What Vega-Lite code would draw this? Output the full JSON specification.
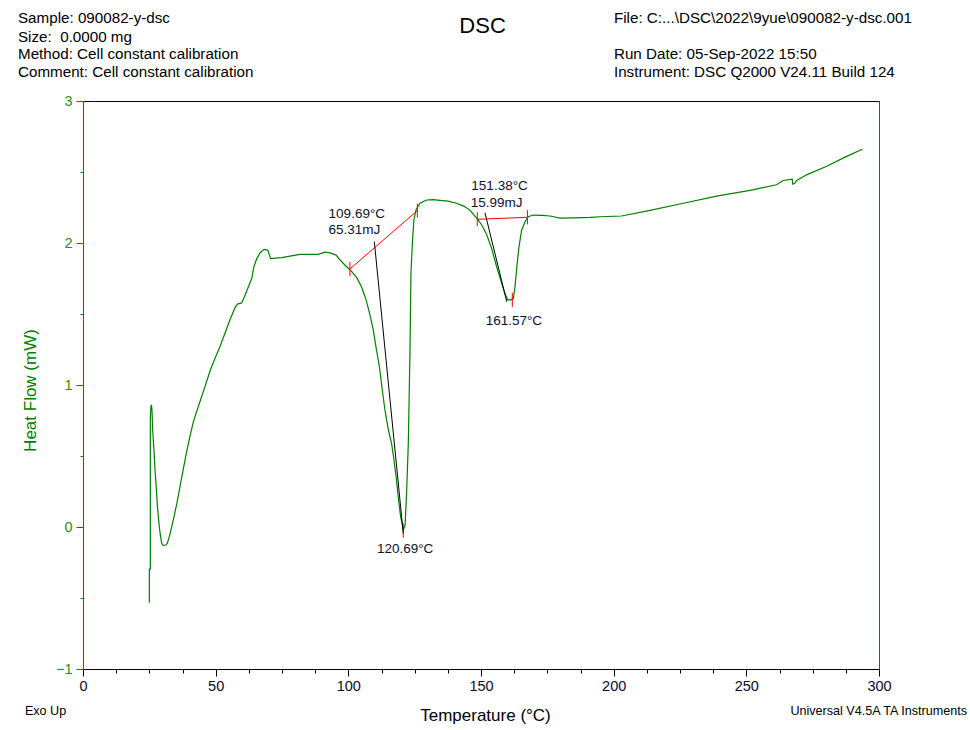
{
  "$schema": "https://vega.github.io/schema/vega-lite/v6.json",
  "width": 796,
  "height": 568,
  "autosize": {"type": "none"},
  "padding": {"left": 83, "top": 101, "right": 91, "bottom": 61},
  "background": "white",
  "config": {"view": {"stroke": "#008000", "strokeWidth": 1}, "font": "Liberation Sans"},
  "datasets": {
    "curve": [
      {"i": 1, "T": 25.0, "HF": -0.533}, {"i": 2, "T": 25.0, "HF": -0.296}, {"i": 3, "T": 25.38, "HF": -0.296},
      {"i": 4, "T": 25.38, "HF": 0.77}, {"i": 5, "T": 25.6, "HF": 0.85}, {"i": 6, "T": 25.8, "HF": 0.86},
      {"i": 7, "T": 26.0, "HF": 0.82}, {"i": 8, "T": 26.26, "HF": 0.68}, {"i": 9, "T": 26.76, "HF": 0.54},
      {"i": 10, "T": 27.14, "HF": 0.40}, {"i": 11, "T": 27.64, "HF": 0.27}, {"i": 12, "T": 28.01, "HF": 0.155},
      {"i": 13, "T": 28.39, "HF": 0.073}, {"i": 14, "T": 28.77, "HF": 0.0}, {"i": 15, "T": 29.14, "HF": -0.056},
      {"i": 16, "T": 29.65, "HF": -0.115}, {"i": 17, "T": 30.1, "HF": -0.128}, {"i": 18, "T": 30.65, "HF": -0.13},
      {"i": 19, "T": 31.2, "HF": -0.127}, {"i": 20, "T": 31.78, "HF": -0.115}, {"i": 21, "T": 32.79, "HF": -0.05},
      {"i": 22, "T": 34.04, "HF": 0.05}, {"i": 23, "T": 35.3, "HF": 0.16}, {"i": 24, "T": 36.56, "HF": 0.285},
      {"i": 25, "T": 37.81, "HF": 0.41}, {"i": 26, "T": 39.07, "HF": 0.53}, {"i": 27, "T": 40.33, "HF": 0.64},
      {"i": 28, "T": 41.58, "HF": 0.74}, {"i": 29, "T": 43.84, "HF": 0.87}, {"i": 30, "T": 46.0, "HF": 0.99},
      {"i": 31, "T": 47.9, "HF": 1.1}, {"i": 32, "T": 49.8, "HF": 1.19}, {"i": 33, "T": 51.6, "HF": 1.27},
      {"i": 34, "T": 53.5, "HF": 1.364}, {"i": 35, "T": 55.4, "HF": 1.46}, {"i": 36, "T": 57.3, "HF": 1.545},
      {"i": 37, "T": 58.2, "HF": 1.57}, {"i": 38, "T": 59.8, "HF": 1.578}, {"i": 39, "T": 61.1, "HF": 1.634},
      {"i": 40, "T": 62.3, "HF": 1.69}, {"i": 41, "T": 63.6, "HF": 1.75}, {"i": 42, "T": 64.4, "HF": 1.833},
      {"i": 43, "T": 65.5, "HF": 1.89}, {"i": 44, "T": 66.7, "HF": 1.93}, {"i": 45, "T": 68.2, "HF": 1.955},
      {"i": 46, "T": 69.6, "HF": 1.95}, {"i": 47, "T": 70.2, "HF": 1.92}, {"i": 48, "T": 70.7, "HF": 1.89},
      {"i": 49, "T": 74.9, "HF": 1.897}, {"i": 50, "T": 78.0, "HF": 1.908}, {"i": 51, "T": 81.8, "HF": 1.92},
      {"i": 52, "T": 88.7, "HF": 1.92}, {"i": 53, "T": 91.2, "HF": 1.935}, {"i": 54, "T": 93.1, "HF": 1.93},
      {"i": 55, "T": 95.4, "HF": 1.915}, {"i": 56, "T": 96.9, "HF": 1.88}, {"i": 57, "T": 98.7, "HF": 1.845},
      {"i": 58, "T": 100.6, "HF": 1.812}, {"i": 59, "T": 103.1, "HF": 1.758}, {"i": 60, "T": 105.0, "HF": 1.69},
      {"i": 61, "T": 106.7, "HF": 1.6}, {"i": 62, "T": 108.2, "HF": 1.49}, {"i": 63, "T": 109.4, "HF": 1.387},
      {"i": 64, "T": 110.4, "HF": 1.27}, {"i": 65, "T": 111.7, "HF": 1.13}, {"i": 66, "T": 112.8, "HF": 0.965},
      {"i": 67, "T": 113.8, "HF": 0.824}, {"i": 68, "T": 115.1, "HF": 0.683}, {"i": 69, "T": 116.3, "HF": 0.589},
      {"i": 70, "T": 117.2, "HF": 0.472}, {"i": 71, "T": 118.0, "HF": 0.354}, {"i": 72, "T": 118.8, "HF": 0.213},
      {"i": 73, "T": 119.7, "HF": 0.073}, {"i": 74, "T": 120.4, "HF": 0.014}, {"i": 75, "T": 120.7, "HF": -0.021},
      {"i": 76, "T": 121.4, "HF": 0.014}, {"i": 77, "T": 122.0, "HF": 0.26}, {"i": 78, "T": 122.6, "HF": 0.589},
      {"i": 79, "T": 123.2, "HF": 1.2}, {"i": 80, "T": 123.6, "HF": 1.787}, {"i": 81, "T": 124.2, "HF": 2.02},
      {"i": 82, "T": 124.7, "HF": 2.162}, {"i": 83, "T": 125.5, "HF": 2.233}, {"i": 84, "T": 127.0, "HF": 2.28},
      {"i": 85, "T": 129.5, "HF": 2.303}, {"i": 86, "T": 132.0, "HF": 2.305}, {"i": 87, "T": 134.5, "HF": 2.3},
      {"i": 88, "T": 137.5, "HF": 2.295}, {"i": 89, "T": 140.8, "HF": 2.28}, {"i": 90, "T": 143.5, "HF": 2.26},
      {"i": 91, "T": 145.9, "HF": 2.23}, {"i": 92, "T": 148.6, "HF": 2.17}, {"i": 93, "T": 150.3, "HF": 2.127},
      {"i": 94, "T": 152.2, "HF": 2.056}, {"i": 95, "T": 154.0, "HF": 1.962}, {"i": 96, "T": 155.9, "HF": 1.833},
      {"i": 97, "T": 157.8, "HF": 1.716}, {"i": 98, "T": 159.0, "HF": 1.645}, {"i": 99, "T": 160.1, "HF": 1.6},
      {"i": 100, "T": 161.3, "HF": 1.6}, {"i": 101, "T": 162.2, "HF": 1.61}, {"i": 102, "T": 162.8, "HF": 1.69},
      {"i": 103, "T": 163.5, "HF": 1.83}, {"i": 104, "T": 164.3, "HF": 1.97}, {"i": 105, "T": 165.3, "HF": 2.09},
      {"i": 106, "T": 166.6, "HF": 2.15}, {"i": 107, "T": 167.8, "HF": 2.185}, {"i": 108, "T": 169.7, "HF": 2.197},
      {"i": 109, "T": 173.0, "HF": 2.195}, {"i": 110, "T": 176.0, "HF": 2.19}, {"i": 111, "T": 179.8, "HF": 2.175},
      {"i": 112, "T": 185.0, "HF": 2.177}, {"i": 113, "T": 191.1, "HF": 2.18}, {"i": 114, "T": 194.9, "HF": 2.185},
      {"i": 115, "T": 203.0, "HF": 2.19}, {"i": 116, "T": 213.7, "HF": 2.23}, {"i": 117, "T": 226.3, "HF": 2.28},
      {"i": 118, "T": 238.8, "HF": 2.33}, {"i": 119, "T": 251.4, "HF": 2.37}, {"i": 120, "T": 261.4, "HF": 2.41},
      {"i": 121, "T": 263.9, "HF": 2.44}, {"i": 122, "T": 267.3, "HF": 2.45}, {"i": 123, "T": 267.5, "HF": 2.415},
      {"i": 124, "T": 268.2, "HF": 2.42}, {"i": 125, "T": 269.0, "HF": 2.44}, {"i": 126, "T": 272.7, "HF": 2.48},
      {"i": 127, "T": 280.3, "HF": 2.54}, {"i": 128, "T": 287.8, "HF": 2.61}, {"i": 129, "T": 293.7, "HF": 2.66}
    ],
    "segs": [
      {"kind": "base", "T": 100.6, "HF": 1.817, "T2": 126.0, "HF2": 2.228},
      {"kind": "base", "T": 100.6, "HF": 1.767, "T2": 100.6, "HF2": 1.867},
      {"kind": "base", "T": 126.0, "HF": 2.178, "T2": 126.0, "HF2": 2.278},
      {"kind": "base", "T": 120.7, "HF": -0.075, "T2": 120.7, "HF2": 0.025},
      {"kind": "base", "T": 148.6, "HF": 2.167, "T2": 167.5, "HF2": 2.181},
      {"kind": "base", "T": 148.6, "HF": 2.117, "T2": 148.6, "HF2": 2.217},
      {"kind": "base", "T": 167.5, "HF": 2.131, "T2": 167.5, "HF2": 2.231},
      {"kind": "base", "T": 161.8, "HF": 1.55, "T2": 161.8, "HF2": 1.65},
      {"kind": "tangent", "T": 109.8, "HF": 2.01, "T2": 120.7, "HF2": -0.045},
      {"kind": "tangent", "T": 151.5, "HF": 2.213, "T2": 159.7, "HF2": 1.587}
    ],
    "notes": [
      {"t": "109.69°C", "T": 103.2, "HF": 2.206},
      {"t": "65.31mJ", "T": 102.3, "HF": 2.094},
      {"t": "120.69°C", "T": 121.4, "HF": -0.155},
      {"t": "151.38°C", "T": 157.0, "HF": 2.4},
      {"t": "15.99mJ", "T": 155.9, "HF": 2.283},
      {"t": "161.57°C", "T": 162.4, "HF": 1.449}
    ],
    "title": [
      {"t": "DSC", "T": 150.6, "HF": 3.479}
    ],
    "header": [
      {"t": "Sample: 090082-y-dsc", "T": -24.5, "HF": 3.551},
      {"t": "Size:\u00a0 0.0000 mg", "T": -24.5, "HF": 3.418},
      {"t": "Method: Cell constant calibration", "T": -24.5, "HF": 3.294},
      {"t": "Comment: Cell constant calibration", "T": -24.5, "HF": 3.167},
      {"t": "File: C:...\\DSC\\2022\\9yue\\090082-y-dsc.001", "T": 200.1, "HF": 3.551},
      {"t": "Run Date: 05-Sep-2022 15:50", "T": 200.1, "HF": 3.294},
      {"t": "Instrument: DSC Q2000 V24.11 Build 124", "T": 200.1, "HF": 3.167}
    ],
    "footer": [
      {"t": "Exo Up", "T": -21.9, "HF": -1.324},
      {"t": "Universal V4.5A TA Instruments", "T": 266.6, "HF": -1.324}
    ]
  },
  "resolve": {"axis": {"x": "independent"}},
  "layer": [
    {
      "data": {"name": "curve"},
      "mark": {"type": "line", "color": "#008000", "strokeWidth": 1.2},
      "encoding": {
        "x": {
          "field": "T", "type": "quantitative",
          "scale": {"domain": [0, 300], "nice": false, "zero": false},
          "axis": {
            "orient": "bottom",
            "values": [0, 12.5, 25, 37.5, 50, 62.5, 75, 87.5, 100, 112.5, 125, 137.5, 150, 162.5, 175, 187.5, 200, 212.5, 225, 237.5, 250, 262.5, 275, 287.5, 300],
            "labelExpr": "datum.value % 50 === 0 ? format(datum.value, 'd') : ''",
            "labelOverlap": false, "labelFlush": false,
            "tickSize": {"condition": {"test": "datum.value % 50 === 0", "value": 7}, "value": 4},
            "tickColor": "black", "domainColor": "black", "grid": false,
            "labelColor": "#0a0a30", "labelFontSize": 14.5, "labelFont": "Liberation Sans", "labelPadding": 3,
            "title": "Temperature (°C)", "titleFontSize": 17, "titleFontWeight": "normal", "titleColor": "black",
            "titleFont": "Liberation Sans", "titleBaseline": "alphabetic", "titleY": 51, "titleX": 402
          }
        },
        "y": {
          "field": "HF", "type": "quantitative",
          "scale": {"domain": [-1, 3], "nice": false, "zero": false},
          "axis": {
            "values": [-1, -0.75, -0.5, -0.25, 0, 0.25, 0.5, 0.75, 1, 1.25, 1.5, 1.75, 2, 2.25, 2.5, 2.75, 3],
            "labelExpr": "datum.value % 1 === 0 ? format(datum.value, 'd') : ''",
            "labelOverlap": false, "labelFlush": false,
            "tickSize": {"condition": {"test": "datum.value % 1 === 0", "value": 7}, "value": 3},
            "tickColor": "#008000", "domainColor": "#008000", "grid": false,
            "labelColor": "#2a8a1a", "labelFontSize": 14.5, "labelFont": "Liberation Sans", "labelPadding": 4,
            "title": "Heat Flow (mW)", "titleFontSize": 17, "titleFontWeight": "normal", "titleColor": "#008000",
            "titleFont": "Liberation Sans", "titleBaseline": "alphabetic", "titleX": -48, "titleY": 289, "titleAngle": 270
          }
        },
        "order": {"field": "i", "type": "quantitative"}
      }
    },
    {
      "data": {"name": "segs"},
      "mark": {"type": "rule", "strokeWidth": 1},
      "encoding": {
        "x": {
          "field": "T", "type": "quantitative",
          "scale": {"domain": [0, 300], "nice": false, "zero": false},
          "axis": {"orient": "top", "labels": false, "ticks": false, "title": null, "grid": false, "domainColor": "black"}
        },
        "y": {"field": "HF", "type": "quantitative", "scale": {"domain": [-1, 3], "nice": false, "zero": false}},
        "x2": {"field": "T2"},
        "y2": {"field": "HF2"},
        "color": {"field": "kind", "type": "nominal", "scale": {"domain": ["base", "tangent"], "range": ["#ff0000", "#000000"]}, "legend": null}
      }
    },
    {
      "data": {"name": "notes"},
      "mark": {"type": "text", "align": "center", "baseline": "middle", "fontSize": 13.5, "font": "Liberation Sans", "color": "#101030"},
      "encoding": {
        "x": {"field": "T", "type": "quantitative", "scale": {"domain": [0, 300], "nice": false, "zero": false}, "axis": null},
        "y": {"field": "HF", "type": "quantitative", "scale": {"domain": [-1, 3], "nice": false, "zero": false}},
        "text": {"field": "t"}
      }
    },
    {
      "data": {"name": "title"},
      "mark": {"type": "text", "align": "center", "baseline": "alphabetic", "fontSize": 22, "font": "Liberation Sans", "color": "black"},
      "encoding": {
        "x": {"field": "T", "type": "quantitative", "scale": {"domain": [0, 300], "nice": false, "zero": false}, "axis": null},
        "y": {"field": "HF", "type": "quantitative", "scale": {"domain": [-1, 3], "nice": false, "zero": false}},
        "text": {"field": "t"}
      }
    },
    {
      "data": {"name": "header"},
      "mark": {"type": "text", "align": "left", "baseline": "alphabetic", "fontSize": 15.2, "font": "Liberation Sans", "color": "black"},
      "encoding": {
        "x": {"field": "T", "type": "quantitative", "scale": {"domain": [0, 300], "nice": false, "zero": false}, "axis": null},
        "y": {"field": "HF", "type": "quantitative", "scale": {"domain": [-1, 3], "nice": false, "zero": false}},
        "text": {"field": "t"}
      }
    },
    {
      "data": {"name": "footer"},
      "mark": {"type": "text", "align": "left", "baseline": "alphabetic", "fontSize": 12.6, "font": "Liberation Sans", "color": "black"},
      "encoding": {
        "x": {"field": "T", "type": "quantitative", "scale": {"domain": [0, 300], "nice": false, "zero": false}, "axis": null},
        "y": {"field": "HF", "type": "quantitative", "scale": {"domain": [-1, 3], "nice": false, "zero": false}},
        "text": {"field": "t"}
      }
    }
  ]
}
